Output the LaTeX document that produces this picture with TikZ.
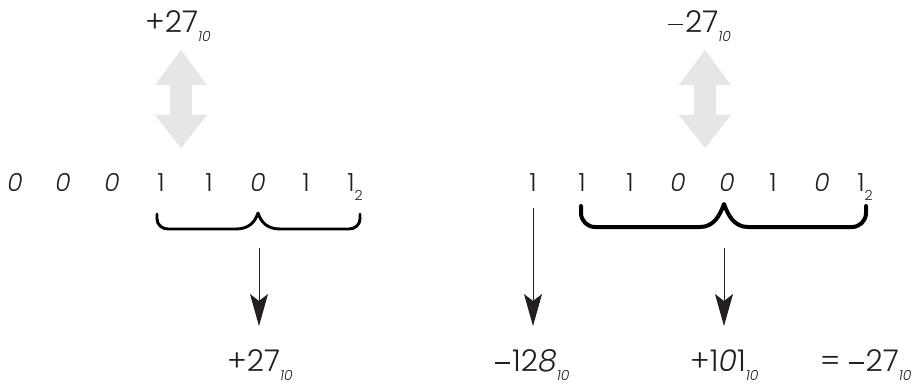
\documentclass[tikz,border=0pt]{standalone}
\usepackage{fontspec}
\setmainfont{Poppins}[UprightFont=* Light, ItalicFont=* Light Italic]
\usetikzlibrary{arrows.meta}
\definecolor{ink}{HTML}{231F20}
\definecolor{pale}{HTML}{E5E6E7}
\newcommand{\tensub}{\smash{\raisebox{-9pt}{\fontsize{14pt}{14pt}\selectfont\itshape 10}}}
\newcommand{\twosub}{\smash{\raisebox{-9pt}{\fontsize{14pt}{14pt}\selectfont 2}}}
\newcommand{\mns}{\raisebox{7.5pt}{\rule{15pt}{1.3pt}}\hspace{2pt}}
\tikzset{
  bit/.style={anchor=base, inner sep=0pt, text=ink, font=\fontsize{25pt}{25pt}\selectfont},
  zbit/.style={bit, font=\fontsize{25pt}{25pt}\selectfont\itshape},
  big/.style={anchor=base west, inner sep=0pt, text=ink, font=\fontsize{30pt}{30pt}\selectfont},
  conn/.style={draw=ink, line width=1pt, -{Stealth[length=32pt,width=18pt,inset=7pt]}},
  bracefig/.style={draw=black, line cap=round, line join=round},
  dbl/.style={fill=pale, draw=none}
}
\begin{document}
\begin{tikzpicture}[x=1pt,y=-1pt]
\useasboundingbox (0,0) rectangle (916,385);
% left group
\node[big] (topL) at (145,33) {+27\tensub};
\fill[dbl] (181,50) -- (207,85) -- (192,85) -- (192,115) -- (207,115) -- (181,148)
  -- (155,115) -- (170,115) -- (170,85) -- (155,85) -- cycle;
\node[zbit] (l1) at (15,192) {0};
\node[zbit] (l2) at (63,192) {0};
\node[zbit] (l3) at (112,192) {0};
\node[bit] (l4) at (161,192) {1};
\node[bit] (l5) at (209,192) {1};
\node[zbit] (l6) at (258,192) {0};
\node[bit] (l7) at (306,192) {1};
\node[bit] (l8) at (355,192) {1\twosub};
\draw[bracefig, line width=2.9pt] (157,214) -- (157,219) to[out=-90,in=180] (168,229) -- (236,229)
  .. controls (249,229) and (255,222) .. (258,213)
  .. controls (261,222) and (267,229) .. (280,229) -- (349,229) to[out=0,in=-90] (360,219) -- (360,214);
\coordinate (lbs) at (259,248);
\coordinate (lbe) at (259,326);
\draw[conn] (lbs) -- (lbe);
\node[big] (botL) at (227,371) {+27\tensub};
% right group
\node[big] (topR) at (668,33) {\mns27\tensub};
\fill[dbl] (705,50) -- (731,85) -- (716,85) -- (716,115) -- (731,115) -- (705,148)
  -- (679,115) -- (694,115) -- (694,85) -- (679,85) -- cycle;
\node[bit] (r1) at (533,192) {1};
\node[bit] (r2) at (582,192) {1};
\node[bit] (r3) at (630,192) {1};
\node[zbit] (r4) at (678,192) {0};
\node[zbit] (r5) at (727,192) {0};
\node[bit] (r6) at (773,192) {1};
\node[zbit] (r7) at (822,192) {0};
\node[bit] (r8) at (865,192) {1\twosub};
\draw[bracefig, line width=4pt] (581,206) -- (581,213) to[out=-90,in=180] (595,227) -- (700,227)
  .. controls (714,227) and (720,215) .. (724,204)
  .. controls (728,215) and (734,227) .. (748,227) -- (852,227) to[out=0,in=-90] (866,213) -- (866,206);
\coordinate (r1s) at (533,208);
\coordinate (r1e) at (533,326);
\draw[conn] (r1s) -- (r1e);
\coordinate (rbs) at (724,248);
\coordinate (rbe) at (724,326);
\draw[conn] (rbs) -- (rbe);
\node[big] (m128) at (495,371) {\mns12{\itshape 8}\tensub};
\node[big] (p101) at (690,371) {+1{\itshape 0}1\tensub};
\node[big] (res) at (820,371) {= \mns27\tensub};
\end{tikzpicture}
\end{document}
